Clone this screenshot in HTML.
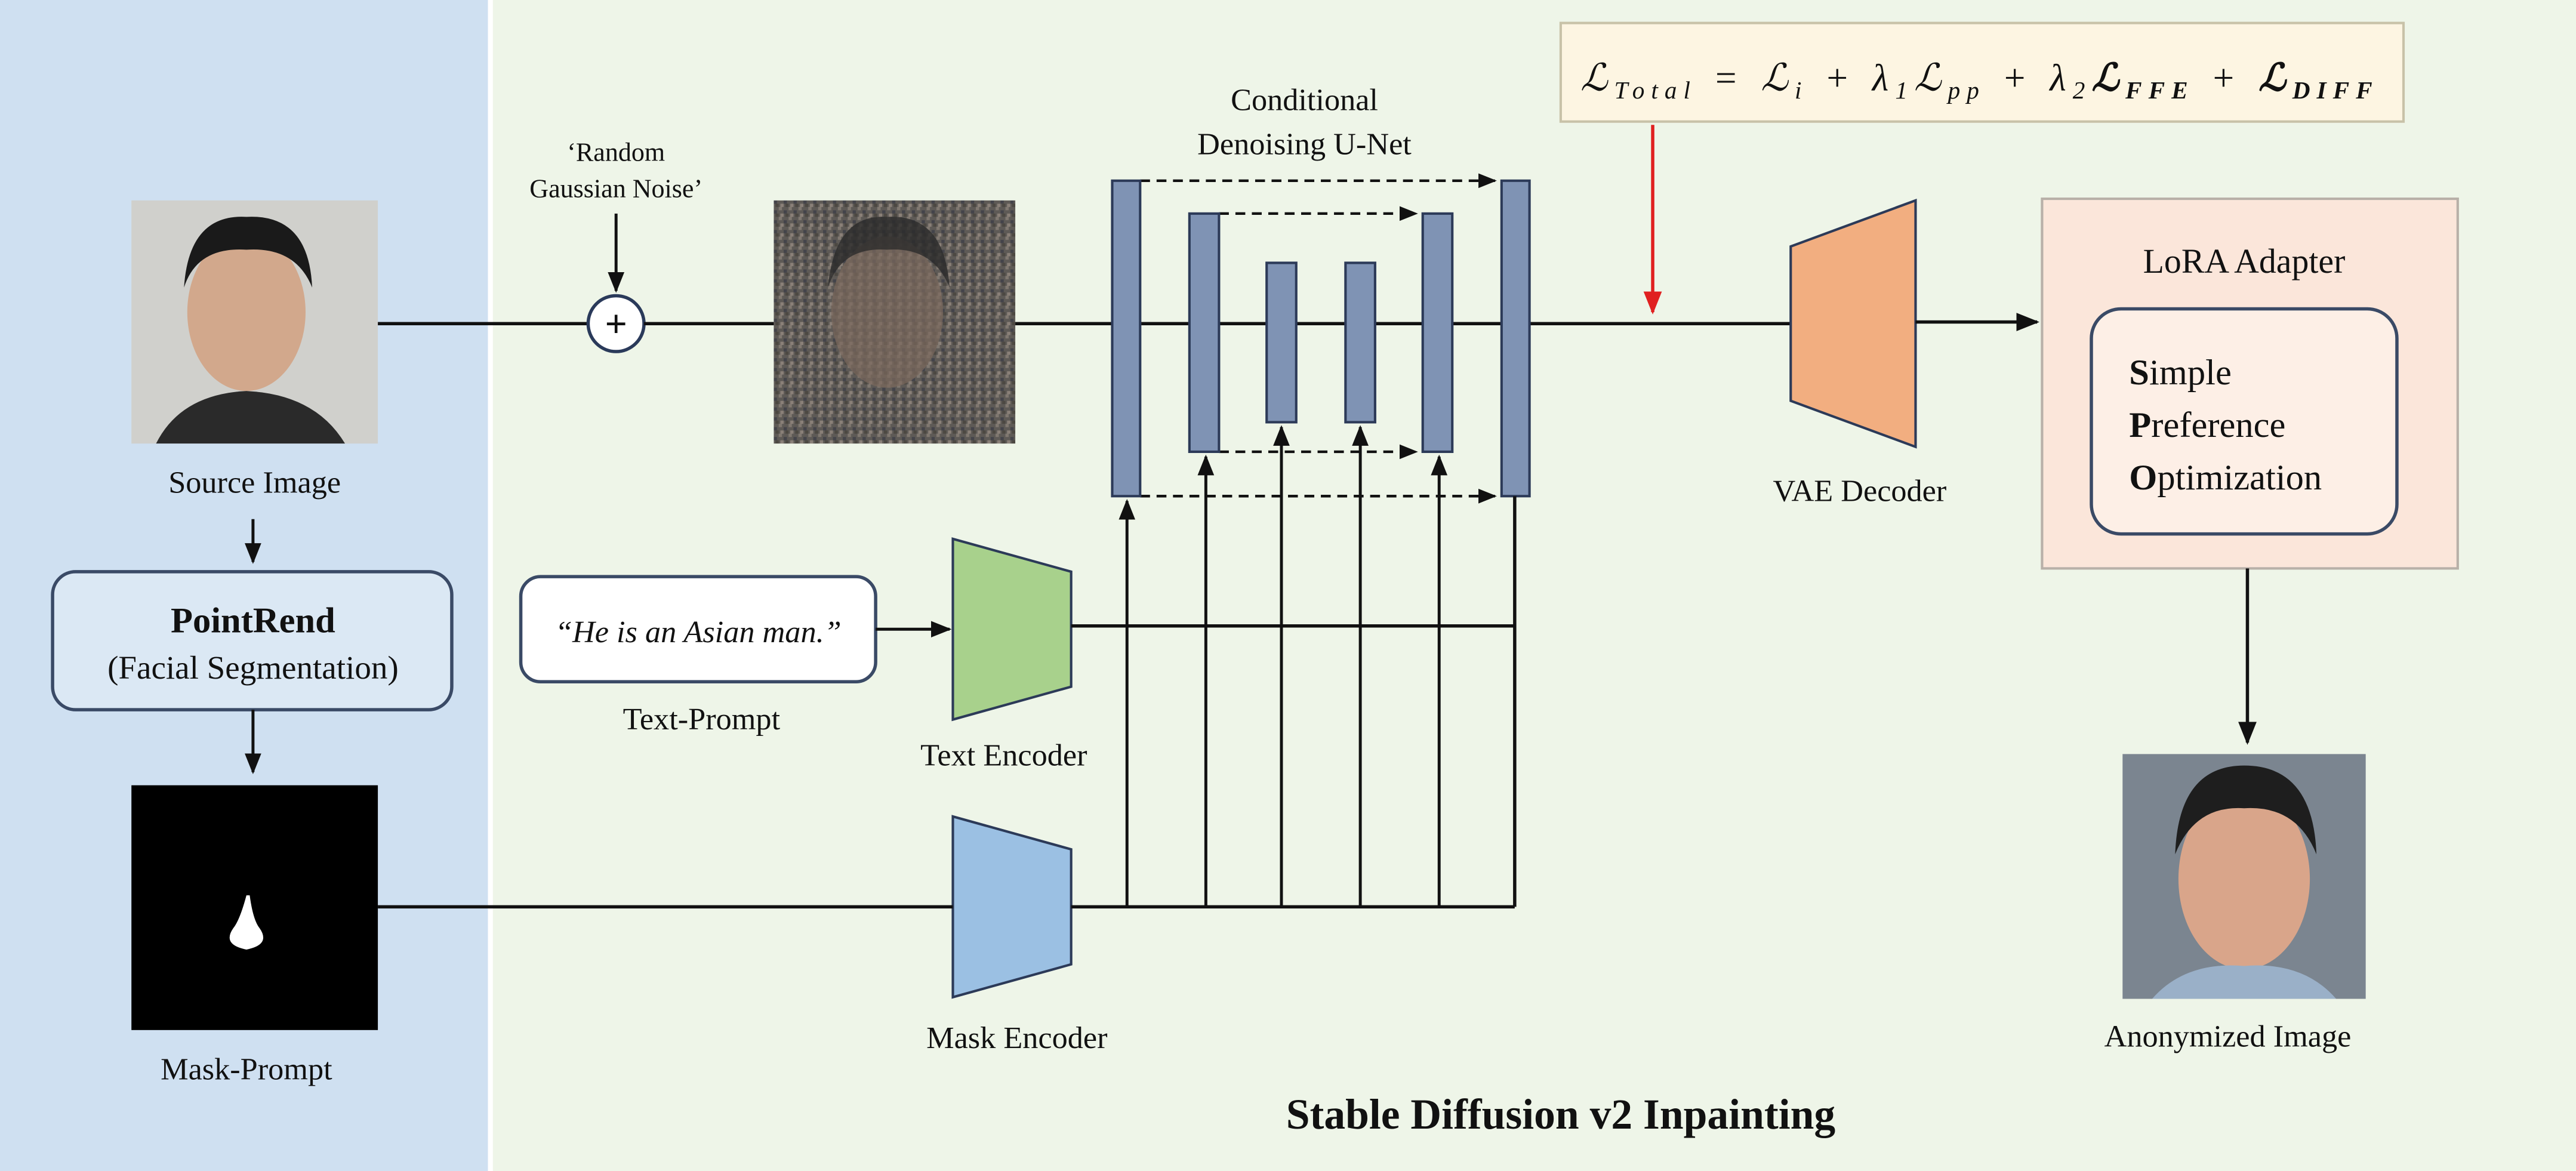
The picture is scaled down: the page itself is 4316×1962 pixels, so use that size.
<!DOCTYPE html>
<html><head><meta charset="utf-8"><style>
html,body{margin:0;padding:0;background:#fff}
svg{display:block}
text{font-family:"Liberation Serif",serif;fill:#111}
</style></head><body>
<svg width="4316" height="1962" viewBox="0 0 1568 712.8" preserveAspectRatio="none" xmlns="http://www.w3.org/2000/svg">
<defs>
<marker id="a" viewBox="0 0 10 10" refX="9" refY="5" markerWidth="7" markerHeight="7" orient="auto"><path d="M0,1 L10,5 L0,9 z" fill="#111"/></marker>
<marker id="r" viewBox="0 0 10 10" refX="9" refY="5" markerWidth="7" markerHeight="7" orient="auto"><path d="M0,1 L10,5 L0,9 z" fill="#e02020"/></marker>
<pattern id="noise" width="6" height="6" patternUnits="userSpaceOnUse"><rect width="6" height="6" fill="#5e5a56"/><rect x="0" y="0" width="2" height="2" fill="#807870"/><rect x="3" y="2" width="2" height="2" fill="#44444a"/><rect x="1" y="4" width="2" height="2" fill="#8a8078"/><rect x="4" y="4" width="2" height="2" fill="#4c4842"/></pattern>
</defs>
<rect x="0" y="0" width="297" height="712.8" fill="#cfe0f1"/>
<rect x="300" y="0" width="1268" height="712.8" fill="#eef5e8"/>

<rect x="80" y="122" width="150" height="148" fill="#d0d0cc"/>
<ellipse cx="150" cy="190" rx="36" ry="48" fill="#d2a88c"/>
<path d="M112,175 Q115,130 150,132 Q188,130 190,175 Q180,150 150,152 Q120,150 112,175z" fill="#1a1a1a"/>
<path d="M95,270 Q110,240 150,238 Q192,240 210,270z" fill="#2a2a2a"/>
<text x="155" y="300" font-size="19" text-anchor="middle">Source Image</text>
<line x1="154" y1="316" x2="154" y2="342" stroke="#111" stroke-width="1.8" marker-end="url(#a)"/>
<rect x="32" y="348" width="243" height="84" rx="14" fill="#dbe8f4" stroke="#3a4a66" stroke-width="2"/>
<text x="154" y="385" font-size="22" font-weight="bold" text-anchor="middle">PointRend</text>
<text x="154" y="413" font-size="20" text-anchor="middle">(Facial Segmentation)</text>
<line x1="154" y1="432" x2="154" y2="470" stroke="#111" stroke-width="1.8" marker-end="url(#a)"/>
<rect x="80" y="478" width="150" height="149" fill="#000"/>
<path d="M150,545 Q146,560 142,565 Q135,575 150,578 Q165,575 158,565 Q154,560 152,545z" fill="#fff"/>
<text x="150" y="657" font-size="19" text-anchor="middle">Mask-Prompt</text>

<line x1="230" y1="197" x2="358" y2="197" stroke="#111" stroke-width="2"/>
<circle cx="375" cy="197" r="17" fill="#fff" stroke="#2a3a5a" stroke-width="2"/>
<text x="375" y="205" font-size="24" font-weight="bold" text-anchor="middle">+</text>
<line x1="392" y1="197" x2="471" y2="197" stroke="#111" stroke-width="2"/>
<text x="375" y="98" font-size="16" text-anchor="middle">‘Random</text>
<text x="375" y="120" font-size="16" text-anchor="middle">Gaussian Noise’</text>
<line x1="375" y1="130" x2="375" y2="177" stroke="#111" stroke-width="1.8" marker-end="url(#a)"/>
<rect x="471" y="122" width="147" height="148" fill="url(#noise)"/>
<ellipse cx="540" cy="190" rx="34" ry="46" fill="#7a685c" opacity="0.7"/>
<path d="M504,175 Q508,130 540,132 Q575,130 578,175 Q568,150 540,152 Q512,150 504,175z" fill="#2a2a2a" opacity="0.8"/>
<line x1="618" y1="197" x2="1090" y2="197" stroke="#111" stroke-width="2"/>

<text x="794" y="67" font-size="19" text-anchor="middle">Conditional</text>
<text x="794" y="94" font-size="19" text-anchor="middle">Denoising U-Net</text>
<g stroke="#111" stroke-width="1.6" stroke-dasharray="6,4">
<line x1="694" y1="110" x2="910" y2="110" marker-end="url(#a)"/>
<line x1="742" y1="130" x2="862" y2="130" marker-end="url(#a)"/>
<line x1="742" y1="275" x2="862" y2="275" marker-end="url(#a)"/>
<line x1="694" y1="302" x2="910" y2="302" marker-end="url(#a)"/>
</g>
<g fill="#7f93b4" stroke="#2c3a58" stroke-width="1.5">
<rect x="677" y="110" width="17" height="192"/>
<rect x="724" y="130" width="18" height="145"/>
<rect x="771" y="160" width="18" height="97"/>
<rect x="819" y="160" width="18" height="97"/>
<rect x="866" y="130" width="18" height="145"/>
<rect x="914" y="110" width="17" height="192"/>
</g>
<path d="M580,328 L652,348 L652,418 L580,438z" fill="#a8d18c" stroke="#2c3a58" stroke-width="1.5"/>
<path d="M580,497 L652,517 L652,587 L580,607z" fill="#9bc0e3" stroke="#2c3a58" stroke-width="1.5"/>
<text x="611" y="466" font-size="19" text-anchor="middle">Text Encoder</text>
<text x="619" y="638" font-size="19" text-anchor="middle">Mask Encoder</text>
<rect x="317" y="351" width="216" height="64" rx="12" fill="#fff" stroke="#3a4a66" stroke-width="2"/>
<text x="425" y="391" font-size="19" font-style="italic" text-anchor="middle">“He is an Asian man.”</text>
<text x="427" y="444" font-size="19" text-anchor="middle">Text-Prompt</text>
<line x1="533" y1="383" x2="578" y2="383" stroke="#111" stroke-width="1.8" marker-end="url(#a)"/>
<line x1="652" y1="381" x2="922" y2="381" stroke="#111" stroke-width="2"/>
<line x1="230" y1="552" x2="580" y2="552" stroke="#111" stroke-width="2"/>
<line x1="652" y1="552" x2="922" y2="552" stroke="#111" stroke-width="2"/>
<line x1="922" y1="302" x2="922" y2="552" stroke="#111" stroke-width="2"/>
<g stroke="#111" stroke-width="1.8">
<line x1="686" y1="552" x2="686" y2="305" marker-end="url(#a)"/>
<line x1="734" y1="552" x2="734" y2="278" marker-end="url(#a)"/>
<line x1="780" y1="552" x2="780" y2="260" marker-end="url(#a)"/>
<line x1="828" y1="552" x2="828" y2="260" marker-end="url(#a)"/>
<line x1="876" y1="552" x2="876" y2="278" marker-end="url(#a)"/>
</g>

<rect x="950" y="14" width="513" height="60" fill="#fdf5e2" stroke="#c8c2a8" stroke-width="1.5"/>
<text x="962" y="55" font-size="23" font-style="italic" textLength="482" lengthAdjust="spacing">ℒ<tspan font-size="15" dy="5">Total</tspan><tspan dy="-5"> = ℒ</tspan><tspan font-size="15" dy="5">i</tspan><tspan dy="-5"> + λ</tspan><tspan font-size="15" dy="5">1</tspan><tspan dy="-5">ℒ</tspan><tspan font-size="15" dy="5">pp</tspan><tspan dy="-5"> + λ</tspan><tspan font-size="15" dy="5">2</tspan><tspan dy="-5" font-weight="bold">ℒ</tspan><tspan font-size="15" dy="5" font-weight="bold">FFE</tspan><tspan dy="-5"> + </tspan><tspan font-weight="bold">ℒ</tspan><tspan font-size="15" dy="5" font-weight="bold">DIFF</tspan></text>
<line x1="1006" y1="76" x2="1006" y2="190" stroke="#e02020" stroke-width="2" marker-end="url(#r)"/>

<path d="M1090,150 L1166,122 L1166,272 L1090,244z" fill="#f2ae80" stroke="#2c3a58" stroke-width="1.5"/>
<text x="1132" y="305" font-size="19" text-anchor="middle">VAE Decoder</text>
<line x1="1166" y1="196" x2="1240" y2="196" stroke="#111" stroke-width="2" marker-end="url(#a)"/>
<rect x="1243" y="121" width="253" height="225" fill="#fbe6da" stroke="#b8b0a8" stroke-width="1.5"/>
<text x="1366" y="166" font-size="21" text-anchor="middle">LoRA Adapter</text>
<rect x="1273" y="188" width="186" height="137" rx="18" fill="#fdefe6" stroke="#3a4a66" stroke-width="2"/>
<text x="1296" y="234" font-size="22"><tspan font-weight="bold">S</tspan>imple</text>
<text x="1296" y="266" font-size="22"><tspan font-weight="bold">P</tspan>reference</text>
<text x="1296" y="298" font-size="22"><tspan font-weight="bold">O</tspan>ptimization</text>
<line x1="1368" y1="346" x2="1368" y2="452" stroke="#111" stroke-width="2" marker-end="url(#a)"/>
<rect x="1292" y="459" width="148" height="149" fill="#7b8590"/>
<ellipse cx="1366" cy="535" rx="40" ry="55" fill="#d9a58a"/>
<path d="M1324,520 Q1326,466 1366,466 Q1408,466 1410,520 Q1398,490 1366,492 Q1336,490 1324,520z" fill="#1e1e1e"/>
<path d="M1310,608 Q1330,585 1366,588 Q1402,585 1422,608z" fill="#9ab0c8"/>
<text x="1356" y="637" font-size="19" text-anchor="middle">Anonymized Image</text>
<text x="950" y="687" font-size="26" font-weight="bold" text-anchor="middle">Stable Diffusion v2 Inpainting</text>
</svg>
</body></html>
